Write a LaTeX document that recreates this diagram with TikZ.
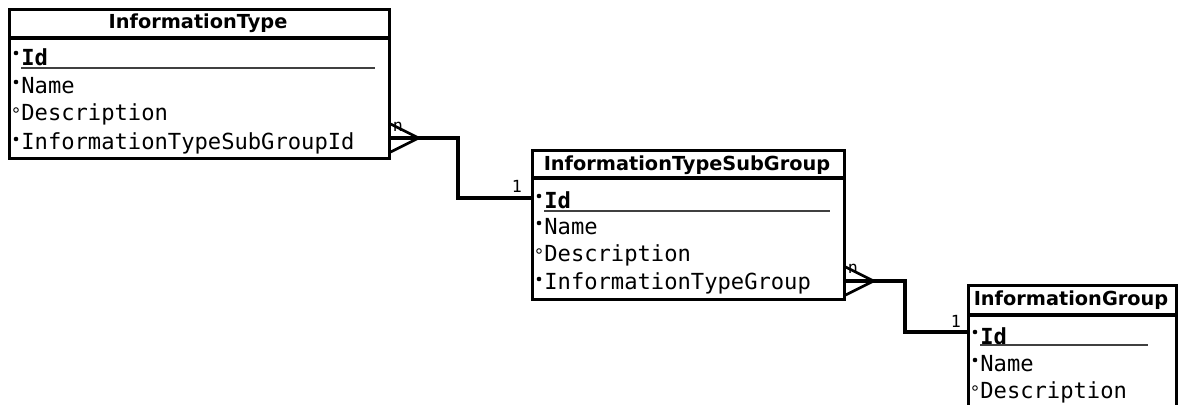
\documentclass[tikz,border=0pt]{standalone}
\usepackage{fontspec}
\setmainfont{DejaVu Sans}
\setmonofont{DejaVu Sans Mono}
\usetikzlibrary{positioning}

\tikzset{
  entity/.style={draw, line width=1.5pt, inner sep=0pt, anchor=north west},
  sepline/.style={line width=2pt},
  title/.style={font=\bfseries\fontsize{11}{13}\selectfont, inner sep=0pt},
  attr/.style={font=\ttfamily\fontsize{12.6}{14}\selectfont, anchor=west, inner sep=0pt},
  keyline/.style={line width=1pt, black!75},
  link/.style={line width=1.9pt},
  crow/.style={line width=1.5pt},
  card/.style={font=\ttfamily\fontsize{9.5}{11}\selectfont, inner sep=0pt}
}
\newcommand{\reqdot}[1]{\fill ([shift={(-5,-4)}]#1.west) circle (2.3);}
\newcommand{\optdot}[1]{\draw[line width=0.5pt] ([shift={(-5,-4)}]#1.west) circle (2.3);}

\begin{document}
\begin{tikzpicture}
      [x=0.02cm, y=-0.02cm]
      \useasboundingbox (0,0) rectangle (1181,405);

      % InformationType
      \node[entity, minimum width=7.6cm, minimum height=2.98cm] (type) at (8,8) {};
      \draw[sepline] (type.west |- 0,38) -- (type.east |- 0,38);
      \node[title] (type-title) at (198,23) {InformationType};
      \node[attr] (type-id) at (21,57) {\textbf{Id}};
      \node[attr] (type-name) at (21,86) {Name};
      \node[attr] (type-desc) at (21,114) {Description};
      \node[attr] (type-sub) at (21,143) {InformationTypeSubGroupId};
      \draw[keyline] (type-id.south west |- 0,68) -- (375,68);
      \reqdot{type-id} \reqdot{type-name} \optdot{type-desc} \reqdot{type-sub}

      % InformationTypeSubGroup
      \node[entity, minimum width=6.24cm, minimum height=2.98cm] (sub) at (531,149) {};
      \draw[sepline] (sub.west |- 0,178) -- (sub.east |- 0,178);
      \node[title] (sub-title) at (687,165) {InformationTypeSubGroup};
      \node[attr] (sub-id) at (544,200) {\textbf{Id}};
      \node[attr] (sub-name) at (544,227) {Name};
      \node[attr] (sub-desc) at (544,255) {Description};
      \node[attr] (sub-group) at (544,283) {InformationTypeGroup};
      \draw[keyline] (sub-id.south west |- 0,211) -- (830,211);
      \reqdot{sub-id} \reqdot{sub-name} \optdot{sub-desc} \reqdot{sub-group}

      % InformationGroup
      \node[entity, minimum width=4.16cm, minimum height=4cm] (group) at (967,284) {};
      \draw[sepline] (group.west |- 0,315) -- (group.east |- 0,315);
      \node[title] (group-title) at (1071,300) {InformationGroup};
      \node[attr] (group-id) at (980,336) {\textbf{Id}};
      \node[attr] (group-name) at (980,364) {Name};
      \node[attr] (group-desc) at (980,392) {Description};
      \draw[keyline] (group-id.south west |- 0,345) -- (1148,345);
      \reqdot{group-id} \reqdot{group-name} \optdot{group-desc}

      % relations
      \coordinate (l1) at (type.east |- 0,138);
      \coordinate (l1m) at (458,138);
      \draw[link] (l1) -- (l1m) |- (sub.west |- 0,198);
      \draw[crow] ([yshift=-8]l1) -- ([xshift=16]l1) -- ([yshift=8]l1);
      \node[card] (l1-n) at (398,127) {n};
      \node[card] (l1-one) at (517,186) {1};

      \coordinate (l2) at (sub.east |- 0,281);
      \coordinate (l2m) at (905,281);
      \draw[link] (l2) -- (l2m) |- (group.west |- 0,332);
      \draw[crow] ([yshift=-8]l2) -- ([xshift=16]l2) -- ([yshift=8]l2);
      \node[card] (l2-n) at (853,269) {n};
      \node[card] (l2-one) at (956,321) {1};
\end{tikzpicture}
\end{document}
